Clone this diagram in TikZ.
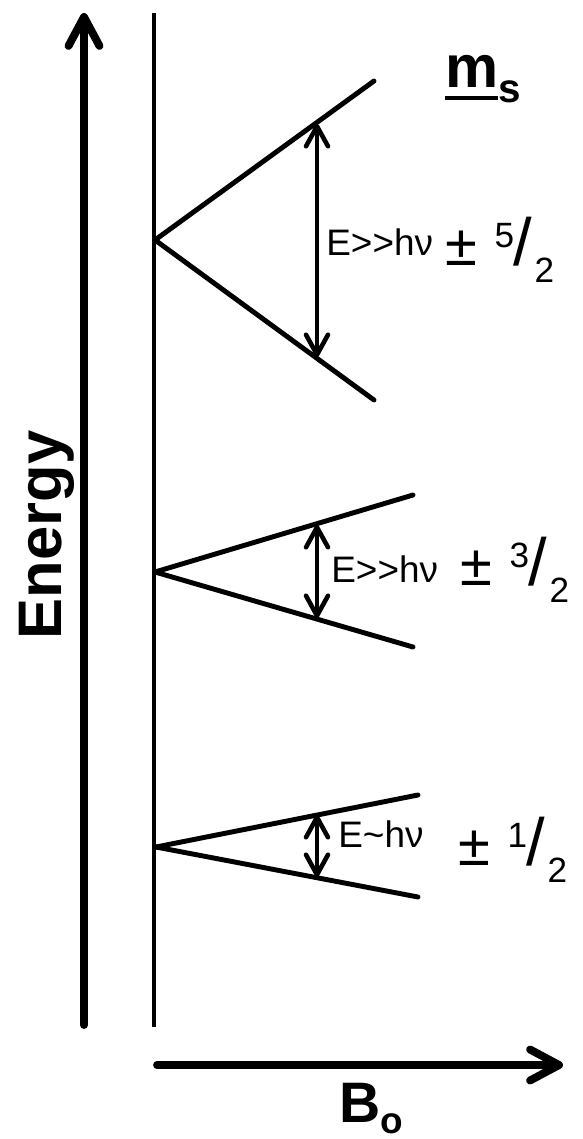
\documentclass[tikz,border=0pt]{standalone}
\usepackage{fontspec}
\setmainfont{Liberation Sans}
\usetikzlibrary{arrows.meta}
\newcommand{\spinval}[2]{{\fontsize{33}{33}\selectfont ±}\kern10pt\raisebox{10pt}{\fontsize{20}{20}\selectfont #1}\kern-0.5pt{\fontsize{38}{38}\selectfont /}\kern1.5pt\raisebox{-9.7pt}{\fontsize{20}{20}\selectfont #2}}
\newcommand{\ulbox}[1]{\sbox0{#1}\rlap{\rule[-7.4pt]{\wd0}{2.3pt}}\usebox0}

\begin{document}
\begin{tikzpicture}[x=0.02cm,y=-0.02cm,
 axis/.style={line width=4.5pt,line cap=round,-{Straight Barb[length=0.58cm,width=0.62cm,round]}},
 bline/.style={line width=2.8pt},
 level/.style={line width=2.8pt,line cap=round},
 gap/.style={line width=2.6pt,{Straight Barb[length=0.4cm,width=0.44cm,round]}-{Straight Barb[length=0.4cm,width=0.44cm,round]}},
 lbl/.style={anchor=base west,inner sep=0pt,font=\fontsize{21}{21}\selectfont},
 spin/.style={anchor=base west,inner sep=0pt}]
\useasboundingbox (0,0) rectangle (582,1139);
% axes
\coordinate (e0) at (84,1025);
\coordinate (e1) at (84,13);
\coordinate (b0) at (157,1065);
\coordinate (b1) at (563,1065);
\coordinate (f0) at (154,13);
\coordinate (f1) at (154,1027);
\draw[axis] (e0)--(e1);
\draw[axis] (b0)--(b1);
\draw[bline] (f0)--(f1);
\node[rotate=90,anchor=base,inner sep=0pt,font=\fontsize{35}{35}\selectfont\bfseries] (en) at (61,535) {Energy};
\node[anchor=base west,inner sep=0pt,font=\fontsize{32.5}{32.5}\selectfont\bfseries] (bo) at (339,1122) {B\raisebox{-6.5pt}{\fontsize{21}{21}\selectfont o}};
% splittings
\coordinate (v1) at (155,240);
\coordinate (u1) at (374,81);
\coordinate (d1) at (374,400);
\coordinate (v2) at (155,572);
\coordinate (u2) at (413,495);
\coordinate (d2) at (413,647);
\coordinate (v3) at (156,847);
\coordinate (u3) at (418,795);
\coordinate (d3) at (418,897);
\foreach \x/\y in {v1/u1,v1/d1,v2/u2,v2/d2,v3/u3,v3/d3}
 \draw[level] (\x)--(\y);
\coordinate (t1) at (317,124);
\coordinate (s1) at (317,357);
\coordinate (t2) at (317,525);
\coordinate (s2) at (317,618);
\coordinate (t3) at (317,815);
\coordinate (s3) at (317,877);
\foreach \x/\y in {t1/s1,t2/s2,t3/s3}
 \draw[gap] (\x)--(\y);
\node[lbl] (g1) at (326,255) {E>{}>hν};
\node[lbl] (g2) at (331,582) {E>{}>hν};
\node[lbl] (g3) at (338,847) {E\textasciitilde hν};
\node[spin] (m1) at (445,265) {\spinval{5}{2}};
\node[spin] (m2) at (460,585) {\spinval{3}{2}};
\node[spin] (m3) at (458,865) {\spinval{1}{2}};
\node[spin,font=\fontsize{34}{34}\selectfont\bfseries] (ms) at (445,87) {\ulbox{m}\raisebox{-9pt}{\fontsize{23}{23}\selectfont s}};
\end{tikzpicture}
\end{document}
